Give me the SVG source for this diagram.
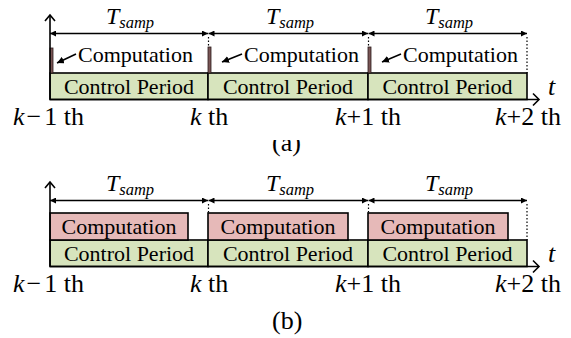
<svg xmlns="http://www.w3.org/2000/svg" width="571" height="338" viewBox="0 0 571 338" font-family="'Liberation Serif', 'Times New Roman', serif">
  <style>
    text { font-family: "Liberation Serif", "Times New Roman", "DejaVu Serif", serif; fill: #000; }
    .lbl { font-size: 22px; }
    .big { font-size: 26px; }
    .it { font-style: italic; }
    .ctrl { fill: #d7e4bd; stroke: #000; stroke-width: 1.6; }
    .comp { fill: #e6b9b8; stroke: #000; stroke-width: 1.6; }
    .bar { fill: #7a5656; stroke: #2a1a1a; stroke-width: 0.8; }
    .line { fill: none; stroke: #000; stroke-width: 1.6; }
    .dot { fill: none; stroke: #000; stroke-width: 1.2; stroke-dasharray: 1.5 2; }
  </style>
  <defs>
    <marker id="tri" viewBox="0 0 10 10" refX="10" refY="5" markerWidth="6" markerHeight="6" markerUnits="userSpaceOnUse" orient="auto-start-reverse">
      <path d="M0,0 L10,5 L0,10 z" fill="#000"/>
    </marker>
    <marker id="tri-s" viewBox="0 0 10 10" refX="10" refY="5" markerWidth="7" markerHeight="7" markerUnits="userSpaceOnUse" orient="auto">
      <path d="M0,0 L10,5 L0,10 z" fill="#000"/>
    </marker>
    <clipPath id="cap-clip">
      <rect x="0" y="140" width="571" height="30"/>
    </clipPath>
  </defs>

  <!-- ===== Panel (a) ===== -->
  <g id="a-period-1"><rect class="ctrl" x="50" y="73" width="158" height="26.5"/><text class="lbl" x="129" y="94" text-anchor="middle">Control Period</text></g>
  <g id="a-period-2"><rect class="ctrl" x="208" y="73" width="160" height="26.5"/><text class="lbl" x="288" y="94" text-anchor="middle">Control Period</text></g>
  <g id="a-period-3"><rect class="ctrl" x="368" y="73" width="159" height="26.5"/><text class="lbl" x="447.5" y="94" text-anchor="middle">Control Period</text></g>

  <g id="a-comp-1"><rect class="bar" x="50" y="48" width="3" height="25"/><text class="lbl" x="78" y="62">Computation</text></g>
  <g id="a-comp-2"><rect class="bar" x="208" y="47" width="3" height="26"/><text class="lbl" x="244" y="62">Computation</text></g>
  <g id="a-comp-3"><rect class="bar" x="368" y="47" width="3" height="26"/><text class="lbl" x="403" y="62">Computation</text></g>

  <g id="a-tsamp">
    <text class="it" x="130" y="24" text-anchor="middle"><tspan font-size="24">T</tspan><tspan font-size="16.5" dy="4">samp</tspan></text>
    <text class="it" x="290" y="24" text-anchor="middle"><tspan font-size="24">T</tspan><tspan font-size="16.5" dy="4">samp</tspan></text>
    <text class="it" x="449" y="24" text-anchor="middle"><tspan font-size="24">T</tspan><tspan font-size="16.5" dy="4">samp</tspan></text>
  </g>

  <g id="a-ticks">
    <text class="big" x="13" y="125"><tspan class="it">k</tspan><tspan dx="2">−</tspan><tspan dx="3">1 th</tspan></text>
    <text class="big" x="190" y="125"><tspan class="it">k</tspan> th</text>
    <text class="big" x="335" y="125"><tspan class="it">k</tspan>+1 th</text>
    <text class="big" x="495" y="125"><tspan class="it">k</tspan>+2 th</text>
    <text class="big it" x="548" y="95">t</text>
  </g>
  <g id="a-caption" clip-path="url(#cap-clip)"><text class="big" x="272" y="151">(a)</text></g>

  <g id="a-connectors">
    <!-- time axes -->
    <polyline class="line" points="50,99.5 50,15"/>
    <polyline class="line" points="45,21 50,15 55,21"/>
    <polyline class="line" points="50,99.5 539,99.5"/>
    <polyline class="line" points="533,93.5 539,99.5 533,105.5"/>
    <!-- sampling intervals -->
    <line class="line" x1="50" y1="33.5" x2="208" y2="33.5" marker-start="url(#tri)" marker-end="url(#tri)"/>
    <line class="line" x1="208.5" y1="33.5" x2="368" y2="33.5" marker-start="url(#tri)" marker-end="url(#tri)"/>
    <line class="line" x1="368.5" y1="33.5" x2="527" y2="33.5" marker-start="url(#tri)" marker-end="url(#tri)"/>
    <line class="dot" x1="208.5" y1="37" x2="208.5" y2="47"/>
    <line class="dot" x1="368.5" y1="37" x2="368.5" y2="47"/>
    <line class="dot" x1="527" y1="37" x2="527" y2="73"/>
    <!-- pointers to the computation slots -->
    <line class="line" x1="76" y1="54" x2="57" y2="63" marker-end="url(#tri-s)"/>
    <line class="line" x1="242" y1="54" x2="222" y2="62" marker-end="url(#tri-s)"/>
    <line class="line" x1="401" y1="54" x2="382" y2="62" marker-end="url(#tri-s)"/>
  </g>

  <!-- ===== Panel (b) ===== -->
  <g id="b-period-1"><rect class="ctrl" x="50" y="240" width="158" height="26.5"/><text class="lbl" x="129" y="261" text-anchor="middle">Control Period</text></g>
  <g id="b-period-2"><rect class="ctrl" x="208" y="240" width="160" height="26.5"/><text class="lbl" x="288" y="261" text-anchor="middle">Control Period</text></g>
  <g id="b-period-3"><rect class="ctrl" x="368" y="240" width="159" height="26.5"/><text class="lbl" x="447.5" y="261" text-anchor="middle">Control Period</text></g>

  <g id="b-comp-1"><rect class="comp" x="50" y="213" width="138" height="27"/><text class="lbl" x="119" y="234" text-anchor="middle">Computation</text></g>
  <g id="b-comp-2"><rect class="comp" x="208" y="213" width="140" height="27"/><text class="lbl" x="278" y="234" text-anchor="middle">Computation</text></g>
  <g id="b-comp-3"><rect class="comp" x="368" y="213" width="140" height="27"/><text class="lbl" x="438" y="234" text-anchor="middle">Computation</text></g>

  <g id="b-tsamp">
    <text class="it" x="130" y="191" text-anchor="middle"><tspan font-size="24">T</tspan><tspan font-size="16.5" dy="4">samp</tspan></text>
    <text class="it" x="290" y="191" text-anchor="middle"><tspan font-size="24">T</tspan><tspan font-size="16.5" dy="4">samp</tspan></text>
    <text class="it" x="449" y="191" text-anchor="middle"><tspan font-size="24">T</tspan><tspan font-size="16.5" dy="4">samp</tspan></text>
  </g>

  <g id="b-ticks">
    <text class="big" x="13" y="292"><tspan class="it">k</tspan><tspan dx="2">−</tspan><tspan dx="3">1 th</tspan></text>
    <text class="big" x="190" y="292"><tspan class="it">k</tspan> th</text>
    <text class="big" x="335" y="292"><tspan class="it">k</tspan>+1 th</text>
    <text class="big" x="495" y="292"><tspan class="it">k</tspan>+2 th</text>
    <text class="big it" x="548" y="262">t</text>
  </g>
  <g id="b-caption"><text class="big" x="272" y="329">(b)</text></g>

  <g id="b-connectors">
    <polyline class="line" points="50,266.5 50,182"/>
    <polyline class="line" points="45,188 50,182 55,188"/>
    <polyline class="line" points="50,266.5 539,266.5"/>
    <polyline class="line" points="533,260.5 539,266.5 533,272.5"/>
    <line class="line" x1="50" y1="200.5" x2="208" y2="200.5" marker-start="url(#tri)" marker-end="url(#tri)"/>
    <line class="line" x1="208.5" y1="200.5" x2="368" y2="200.5" marker-start="url(#tri)" marker-end="url(#tri)"/>
    <line class="line" x1="368.5" y1="200.5" x2="527" y2="200.5" marker-start="url(#tri)" marker-end="url(#tri)"/>
    <line class="dot" x1="208.5" y1="204" x2="208.5" y2="213"/>
    <line class="dot" x1="368.5" y1="204" x2="368.5" y2="213"/>
    <line class="dot" x1="527" y1="204" x2="527" y2="240"/>
  </g>
</svg>
